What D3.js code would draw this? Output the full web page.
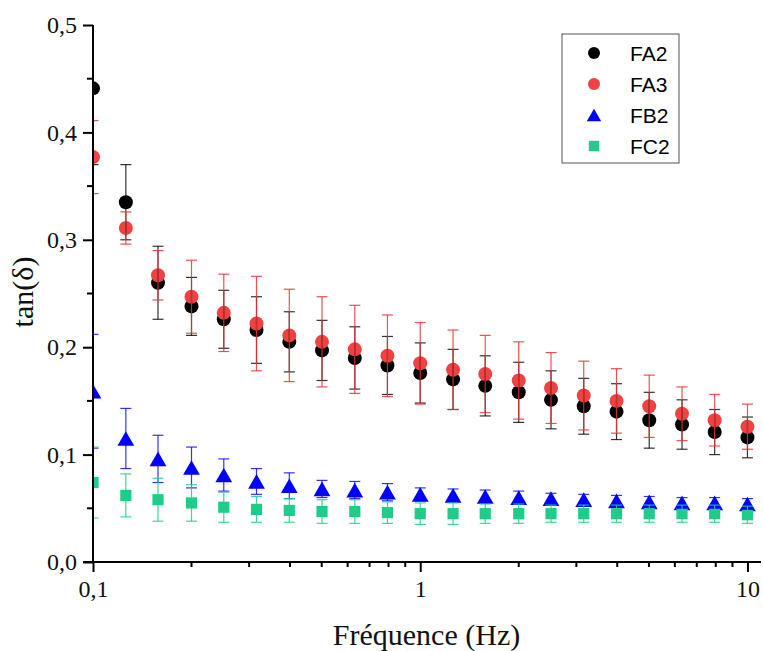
<!DOCTYPE html>
<html>
<head>
<meta charset="utf-8">
<script src="https://cdn.jsdelivr.net/npm/d3@7/dist/d3.min.js"></script>
<style>
  html, body { margin: 0; padding: 0; background: #fff; }
  svg { display: block; }
  .serif { font-family: 'Liberation Serif', 'Times New Roman', serif !important; }
</style>
</head>
<body>
<svg id="chart" width="763" height="651"></svg>
<script>
// ---- data ----
const freq = [0.1, 0.126, 0.158, 0.2, 0.251, 0.316, 0.398, 0.501, 0.631, 0.794, 1, 1.26, 1.58, 2, 2.51, 3.16, 3.98, 5.01, 6.31, 7.94, 10];

const FA2    = [0.441, 0.335, 0.260, 0.238, 0.226, 0.216, 0.205, 0.197, 0.190, 0.183, 0.176, 0.170, 0.164, 0.158, 0.151, 0.145, 0.140, 0.132, 0.128, 0.121, 0.116];
const FA2err = [0.071, 0.035, 0.034, 0.027, 0.027, 0.031, 0.028, 0.028, 0.029, 0.027, 0.028, 0.028, 0.028, 0.028, 0.027, 0.026, 0.026, 0.026, 0.023, 0.021, 0.019];

const FA3    = [0.377, 0.311, 0.267, 0.247, 0.232, 0.222, 0.211, 0.205, 0.198, 0.192, 0.185, 0.179, 0.175, 0.169, 0.162, 0.155, 0.150, 0.145, 0.138, 0.132, 0.126];
const FA3err = [0.034, 0.015, 0.023, 0.034, 0.036, 0.044, 0.043, 0.042, 0.041, 0.038, 0.038, 0.037, 0.036, 0.036, 0.033, 0.032, 0.030, 0.029, 0.025, 0.024, 0.021];

const FB2    = [0.159, 0.115, 0.096, 0.088, 0.081, 0.075, 0.071, 0.068, 0.067, 0.065, 0.063, 0.062, 0.061, 0.060, 0.059, 0.058, 0.057, 0.056, 0.055, 0.055, 0.054];
const FB2err = [0.053, 0.028, 0.022, 0.019, 0.015, 0.012, 0.012, 0.008, 0.008, 0.008, 0.006, 0.006, 0.006, 0.006, 0.005, 0.005, 0.005, 0.005, 0.005, 0.005, 0.005];

const FC2    = [0.074, 0.062, 0.058, 0.055, 0.051, 0.049, 0.048, 0.047, 0.047, 0.046, 0.045, 0.045, 0.045, 0.045, 0.045, 0.045, 0.045, 0.045, 0.045, 0.045, 0.044];
const FC2err = [0.033, 0.020, 0.020, 0.017, 0.014, 0.012, 0.011, 0.011, 0.011, 0.010, 0.010, 0.010, 0.009, 0.009, 0.008, 0.008, 0.008, 0.008, 0.008, 0.008, 0.008];

const seriesNames = ["FA2", "FA3", "FB2", "FC2"];
const yTickValues = [0, 0.1, 0.2, 0.3, 0.4, 0.5];
const xTickValues = [0.1, 1, 10];
const xTickLabels = ["0,1", "1", "10"];
const yTitle = "tan(δ)";
const xTitle = "Fréquence (Hz)";

// ---- styles ----
const series = [
  { name: "FA2", vals: FA2, err: FA2err, color: "#000000", errColor: "rgba(0,0,0,0.8)", shape: "circle" },
  { name: "FA3", vals: FA3, err: FA3err, color: "#ef4343", errColor: "rgba(235,50,50,0.85)", shape: "circle" },
  { name: "FB2", vals: FB2, err: FB2err, color: "#0000ff", errColor: "rgba(0,0,255,0.8)", shape: "triangle" },
  { name: "FC2", vals: FC2, err: FC2err, color: "#20cc8a", errColor: "rgba(32,204,138,0.85)", shape: "square" }
];

const svg = d3.select("#chart");
const pL = 93, pR = 761, pT = 25, pB = 562;

const x = d3.scaleLog().domain([0.1, 11]).range([pL, pR]);
const y = d3.scaleLinear().domain([0, 0.5]).range([pB, pT]);

const sans = "'Liberation Sans', Arial, sans-serif";

svg.append("defs").append("clipPath").attr("id", "plotclip")
  .append("rect").attr("x", pL).attr("y", pT).attr("width", pR - pL).attr("height", pB - pT);

function shapePath(shape, size) {
  if (shape === "circle") {
    const r = size / 2;
    return `M${-r},0A${r},${r} 0 1,0 ${r},0A${r},${r} 0 1,0 ${-r},0Z`;
  }
  if (shape === "triangle") {
    const w = size * 1.2, h = size * 1.05;
    return `M0,${-h / 2}L${w / 2},${h / 2}L${-w / 2},${h / 2}Z`;
  }
  const s = size * 0.8;
  return `M${-s / 2},${-s / 2}h${s}v${s}h${-s}Z`;
}

const plot = svg.append("g").attr("clip-path", "url(#plotclip)");

// markers
series.forEach(s => {
  plot.append("g").selectAll("path").data(freq.map((f, i) => ({ f, v: s.vals[i] })))
    .join("path")
    .attr("transform", d => `translate(${x(d.f)},${y(d.v)})`)
    .attr("d", shapePath(s.shape, 14))
    .attr("fill", s.color);
});

// error bars on top
series.forEach(s => {
  const g = plot.append("g").attr("stroke", s.errColor).attr("stroke-width", 1.2).attr("fill", "none");
  freq.forEach((f, i) => {
    const cx = x(f), y1 = y(s.vals[i] + s.err[i]), y2 = y(s.vals[i] - s.err[i]);
    g.append("line").attr("x1", cx).attr("x2", cx).attr("y1", y1).attr("y2", y2);
    g.append("line").attr("x1", cx - 5.5).attr("x2", cx + 5.5).attr("y1", y1).attr("y2", y1);
    g.append("line").attr("x1", cx - 5.5).attr("x2", cx + 5.5).attr("y1", y2).attr("y2", y2);
  });
});

// axes
const fmt = d3.format(".1f");
const yAxis = d3.axisLeft(y).tickValues(yTickValues).tickSize(10).tickPadding(6)
  .tickFormat(d => fmt(d).replace(".", ","));
const gy = svg.append("g").attr("transform", `translate(${pL},0)`).call(yAxis);
gy.attr("font-family", null).attr("font-size", null);
gy.select(".domain").attr("stroke", "#000").attr("stroke-width", 2).attr("d", `M0,${pB}V${pT}`);
gy.selectAll(".tick line").attr("stroke", "#000").attr("stroke-width", 2);
gy.selectAll(".tick text").attr("class", "serif").style("font-size", "24px").attr("fill", "#111");

const yMinor = d3.range(0.05, 0.5, 0.1);
svg.append("g").selectAll("line").data(yMinor).join("line")
  .attr("x1", pL - 6).attr("x2", pL).attr("y1", d => y(d)).attr("y2", d => y(d))
  .attr("stroke", "#000").attr("stroke-width", 2);

const xAxis = d3.axisBottom(x).tickValues(xTickValues).tickSize(10).tickPadding(8)
  .tickFormat((d, i) => xTickLabels[i]);
const gx = svg.append("g").attr("transform", `translate(0,${pB})`).call(xAxis);
gx.attr("font-family", null).attr("font-size", null);
gx.select(".domain").attr("stroke", "#000").attr("stroke-width", 2).attr("d", `M${pL - 10},0H${pR}`);
gx.selectAll(".tick line").attr("stroke", "#000").attr("stroke-width", 2);
gx.selectAll(".tick text").attr("class", "serif").style("font-size", "24px").attr("fill", "#111");

const xMinor = [];
[0.1, 1].forEach(dec => { for (let k = 2; k <= 9; k++) xMinor.push(dec * k); });
svg.append("g").selectAll("line").data(xMinor).join("line")
  .attr("x1", d => x(d)).attr("x2", d => x(d)).attr("y1", pB).attr("y2", pB + 5)
  .attr("stroke", "#000").attr("stroke-width", 2);

// titles
svg.append("text").attr("class", "serif").attr("x", 426.5).attr("y", 645)
  .attr("text-anchor", "middle").style("font-size", "30px").attr("fill", "#111")
  .text(xTitle);
svg.append("text").attr("class", "serif").attr("transform", "translate(33,292) rotate(-90)")
  .attr("text-anchor", "middle").style("font-size", "30px").attr("fill", "#111")
  .text(yTitle);

// legend
const lg = svg.append("g");
lg.append("rect").attr("x", 562).attr("y", 34).attr("width", 117).attr("height", 129)
  .attr("fill", "#fff").attr("stroke", "#555").attr("stroke-width", 1);
series.forEach((s, i) => {
  const cy = 53 + i * 31;
  lg.append("path").attr("transform", `translate(594,${cy})`)
    .attr("d", shapePath(s.shape, s.shape === "square" ? 13 : 12)).attr("fill", s.color);
  lg.append("text").attr("x", 630).attr("y", cy + 7.5).attr("font-family", sans).attr("font-size", 21)
    .attr("fill", "#000").text(seriesNames[i]);
});
</script>
</body>
</html>
